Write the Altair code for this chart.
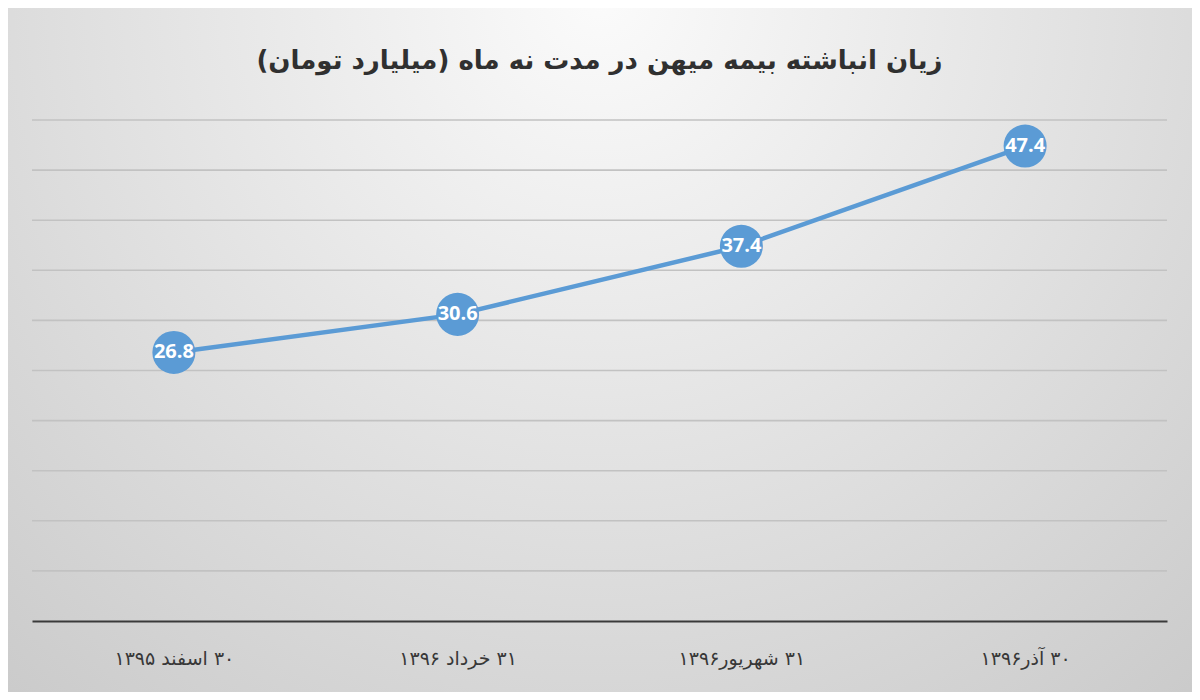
import altair as alt
import pandas as pd

RLM = "\u200f"
categories = ["۳۰ اسفند ۱۳۹۵", "۳۱ خرداد ۱۳۹۶", "۳۱ شهریور۱۳۹۶", "۳۰ آذر۱۳۹۶"]
values = [26.8, 30.6, 37.4, 47.4]
grid_values = [5, 10, 15, 20, 25, 30, 35, 40, 45, 50]
title_text = "زیان انباشته بیمه میهن در مدت نه ماه (میلیارد تومان)"

labels = [RLM + c + RLM for c in categories]
df = pd.DataFrame({"cat": labels, "value": values, "label": [f"{v:.1f}" for v in values]})
grid_df = pd.DataFrame({"g": grid_values})

W, H = 1135, 501
PL, PT, PR, PB = 24, 112, 25, 71

xenc = alt.X("cat:N", sort=labels,
             scale=alt.Scale(type="point", padding=0.5),
             axis=alt.Axis(title=None, labelAngle=0, ticks=False, grid=False,
                           domainColor="#3a3a3a", domainWidth=2.2,
                           labelFontSize=19, labelColor="#383838",
                           labelFont="DejaVu Sans", labelPadding=28, zindex=1))
yscale = alt.Scale(domain=[0, 50], nice=False)

bg = alt.Chart(pd.DataFrame({"a": [0]})).mark_rect(
    fill={"gradient": "radial", "x1": 0.5, "y1": 0.2, "x2": 0.5, "y2": 0.2,
          "r1": 0, "r2": 0.85,
          "stops": [{"offset": 0, "color": "#fbfbfb"},
                    {"offset": 1, "color": "#c6c6c6"}]}
).encode(x=alt.value(-PL), x2=alt.value(W + PR), y=alt.value(-PT), y2=alt.value(H + PB))

title = alt.Chart(pd.DataFrame({"t": [RLM + title_text + RLM]})).mark_text(
    fontSize=26, fontWeight="bold", font="DejaVu Sans", color="#303030",
    align="center", baseline="middle"
).encode(text="t:N", x=alt.value(W / 2), y=alt.value(-59))

grid = alt.Chart(grid_df).mark_rule(color="#c2c2c2", strokeWidth=1.6).encode(
    y=alt.Y("g:Q", scale=yscale, axis=None)
)

base = alt.Chart(df).encode(x=xenc, y=alt.Y("value:Q", scale=yscale, axis=None))
line = base.mark_line(color="#5b9bd5", strokeWidth=4.5)
pts = base.mark_point(filled=True, shape="circle", size=1850, color="#5b9bd5", opacity=1)
txt = base.mark_text(color="white", fontSize=20, fontWeight="bold", font="Open Sans").encode(text="label:N")

chart = alt.layer(bg, title, grid, line, pts, txt).properties(
    width=W, height=H,
    padding={"left": PL, "top": PT, "right": PR, "bottom": PB},
    autosize=alt.AutoSizeParams(type="none"),
).configure_view(stroke=None).configure(background="white")

chart.save("out.html", embed_options={"renderer": "svg", "actions": False})
